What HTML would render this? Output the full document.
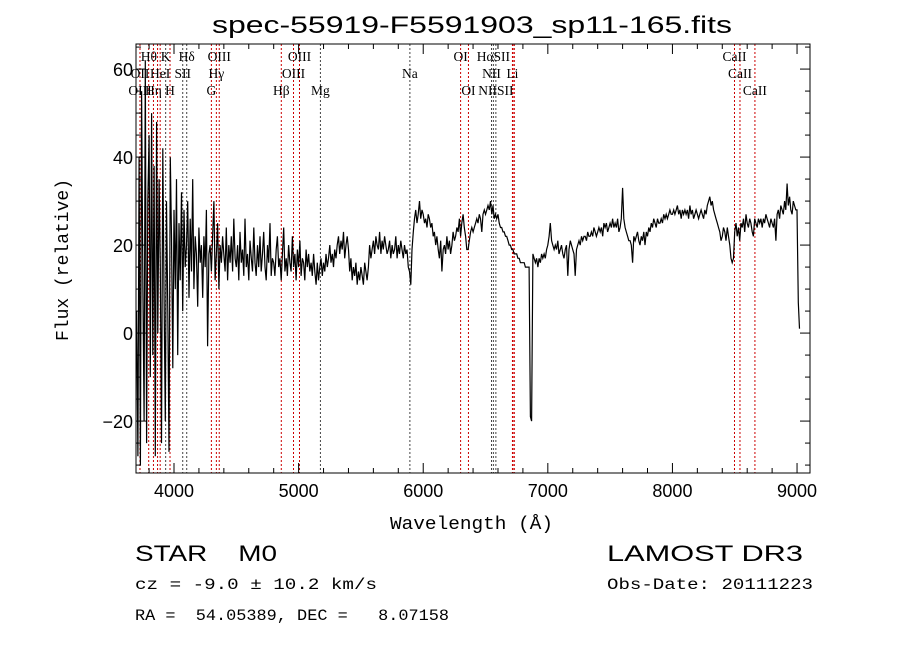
<!DOCTYPE html>
<html><head><meta charset="utf-8"><style>
body{margin:0;background:#fff;width:900px;height:649px;overflow:hidden}
svg{display:block}
.t{font-family:"Liberation Sans",sans-serif;fill:#000}
.m{font-family:"Liberation Mono",monospace;fill:#000}
.s{font-family:"Liberation Serif",serif;fill:#000;font-size:13.5px}
</style></head><body>
<svg id="chart" width="900" height="649" viewBox="0 0 900 649">
<text class="t" x="212" y="33" font-size="24" textLength="520" lengthAdjust="spacingAndGlyphs">spec-55919-F5591903_sp11-165.fits</text>
<g id="lines"></g>
<g id="labels"></g>
<path id="spec" fill="none" stroke="#000" stroke-width="1.2"/>
<rect x="136" y="44" width="674" height="429" fill="none" stroke="#000" stroke-width="1"/>
<g id="ticks" stroke="#000" stroke-width="1"></g>
<g id="ticklabels"></g>
<text class="m" x="390" y="529" font-size="18" textLength="163" lengthAdjust="spacingAndGlyphs">Wavelength (Å)</text>
<text class="m" x="0" y="0" font-size="18" text-anchor="middle" transform="translate(68,260) rotate(-90)">Flux (relative)</text>
<text class="t" x="135" y="561" font-size="22" textLength="142" lengthAdjust="spacingAndGlyphs" xml:space="preserve">STAR    M0</text>
<text class="t" x="607" y="561" font-size="22" textLength="196" lengthAdjust="spacingAndGlyphs">LAMOST DR3</text>
<text class="m" x="135" y="589" font-size="16" textLength="242" lengthAdjust="spacingAndGlyphs">cz = -9.0 ± 10.2 km/s</text>
<text class="m" x="607" y="589" font-size="16" textLength="206" lengthAdjust="spacingAndGlyphs">Obs-Date: 20111223</text>
<text class="m" x="135" y="620" font-size="16" textLength="314" lengthAdjust="spacingAndGlyphs" xml:space="preserve">RA =  54.05389, DEC =   8.07158</text>
</svg>
<script>
const startWave = 3700;
const waveStep = 10;
const flux = [
5,-28,40,-30,55,10,-20,62,-25,30,
45,-10,50,-5,38,-28,48,0,35,15,
-25,42,10,-20,30,5,-27,40,22,-8,
28,10,35,-5,25,12,32,5,28,15,
20,30,8,26,14,35,10,22,18,6,
24,16,20,8,22,15,28,-3,18,20,
14,22,30,12,18,25,10,20,16,22,
18,14,24,12,20,16,22,14,26,17,
15,20,12,23,16,19,13,26,15,18,
12,21,17,14,24,16,13,20,15,22,
14,18,23,15,12,20,16,25,13,17,
16,13,19,22,15,17,12,18,24,14,
17,13,20,16,14,22,15,18,12,19,
15,21,13,17,16,12,19,15,18,14,
16,13,18,14,11,16,12,15,17,13,
16,14,18,15,17,20,16,18,15,19,
17,20,22,18,21,19,23,17,20,22,
19,14,17,12,15,13,16,11,14,12,
15,13,11,16,14,12,15,20,17,19,
21,18,22,20,19,23,18,21,19,22,
20,18,19,21,17,20,18,19,22,17,
20,18,21,19,17,20,18,19,15,14,
11,19,23,26,28,25,27,30,26,28,
27,25,26,24,27,26,24,25,22,23,
20,22,19,17,21,14,19,20,18,22,
19,21,18,20,23,21,22,24,23,26,
22,25,27,24,22,19,19,21,23,24,
23,24,25,26,25,27,26,23,27,28,
27,28,29,28,30,27,29,26,27,26,
27,25,24,24,23,23,22,22,21,20,
20,19,19,18,18,18,17,17,16,16,
16,16,15,15,15,15,-19,-20,18,17,
16,17,15,17,16,18,17,18,17,19,
20,22,25,21,20,19,20,19,21,18,
19,20,18,17,19,20,13,19,21,20,
19,18,13,19,20,21,20,22,21,22,
22,21,23,22,22,23,22,24,23,22,
23,24,23,24,22,25,24,25,23,24,
25,24,26,24,25,24,26,23,24,26,
33,26,24,23,22,21,21,20,16,22,
21,22,23,21,20,22,21,23,20,23,
22,24,23,25,24,26,25,24,26,25,
25,26,25,27,26,27,26,27,28,27,
27,28,27,28,29,27,28,26,28,27,
28,27,28,26,29,27,28,26,27,28,
27,26,27,28,27,26,28,27,29,30,
31,29,30,28,27,26,25,24,23,21,
22,24,23,21,24,22,20,17,16,17,
23,25,22,24,21,25,24,26,23,27,
25,24,26,25,23,22,26,25,24,26,
25,26,24,26,25,27,26,25,24,26,
25,24,26,21,27,28,26,29,28,27,
30,28,34,29,31,28,27,30,29,28,
28,7,1];
const lineWaves = [3727,3797,3835,3868,3889,3933,3968,4070,4102,4300,4340,4363,4861,4959,5007,5175,5893,6300,6363,6548,6563,6583,6716,6720,6731,8498,8542,8662];
const lineBlack = [5,7,8,15,16,19,20,21];
const xTicks = [4000,5000,6000,7000,8000,9000];
const yTicks = [-20,0,20,40,60];
const labelTexts = ["Hθ","K","Hδ","OIII","OIII","OI","HαSII","CaII","OII","HeI","SII","Hγ","OIII","Na","NII","Li","CaII","OIII","Hη","H","G","Hβ","Mg","OI","NIISII","CaII"];
const labelWaves = [3798,3933,4102,4363,5007,6300,6563,8498,3727,3889,4070,4340,4959,5893,6548,6716,8542,3727,3835,3968,4300,4861,5175,6363,6583,8662];
const labelRows = [0,0,0,0,0,0,0,0,1,1,1,1,1,1,1,1,1,2,2,2,2,2,2,2,2,2];

const X0=136,X1=810,Y0=44,Y1=473,W0=3695,W1=9104,F0=-31.8,F1=65.7;
const xs=w=>X0+(w-W0)/(W1-W0)*(X1-X0);
const ys=f=>Y1-(f-F0)/(F1-F0)*(Y1-Y0);
const NS="http://www.w3.org/2000/svg";
function mk(tag,parent){const e=document.createElementNS(NS,tag);parent.appendChild(e);return e;}

let d="";
flux.forEach((f,i)=>{const x=xs(startWave+i*waveStep),y=Math.max(Y0,Math.min(Y1,ys(f)));d+=(i?"L":"M")+x.toFixed(1)+" "+y.toFixed(1);});
document.getElementById("spec").setAttribute("d",d);

const lg=document.getElementById("lines");
lineWaves.forEach((w,i)=>{const l=mk("line",lg);const x=xs(w);
l.setAttribute("x1",x);l.setAttribute("x2",x);l.setAttribute("y1",Y0);l.setAttribute("y2",Y1);
l.setAttribute("stroke",lineBlack.includes(i)?"#444":"#c00");l.setAttribute("stroke-width","1");l.setAttribute("stroke-dasharray","2,2");

});

const lb=document.getElementById("labels");
labelTexts.forEach((t,i)=>{const e=mk("text",lb);e.setAttribute("class","s");
e.setAttribute("x",xs(labelWaves[i]));e.setAttribute("y",61+labelRows[i]*17);e.setAttribute("text-anchor","middle");e.textContent=t;

});

const tg=document.getElementById("ticks"),tl=document.getElementById("ticklabels");
function tick(x1,y1,x2,y2){const l=mk("line",tg);l.setAttribute("x1",x1);l.setAttribute("y1",y1);l.setAttribute("x2",x2);l.setAttribute("y2",y2);

}
for(let w=3800;w<=9100;w+=200){const x=xs(w),maj=w%1000===0,L=maj?10:5;tick(x,Y1,x,Y1-L);tick(x,Y0,x,Y0+L);}
for(let f=-30;f<=65;f+=5){const y=ys(f),maj=f%20===0,L=maj?10:5;tick(X0,y,X0+L,y);tick(X1,y,X1-L,y);}
xTicks.forEach(w=>{const e=mk("text",tl);e.setAttribute("class","t");e.setAttribute("font-size","18");e.setAttribute("x",xs(w));e.setAttribute("y",Y1+24);e.setAttribute("text-anchor","middle");e.textContent=w;

});
yTicks.forEach(f=>{const e=mk("text",tl);e.setAttribute("class","t");e.setAttribute("font-size","18");e.setAttribute("x",X0-3);e.setAttribute("y",ys(f)+7);e.setAttribute("text-anchor","end");e.textContent=f<0?"\u2212"+(-f):f;

});
</script>
</body></html>
